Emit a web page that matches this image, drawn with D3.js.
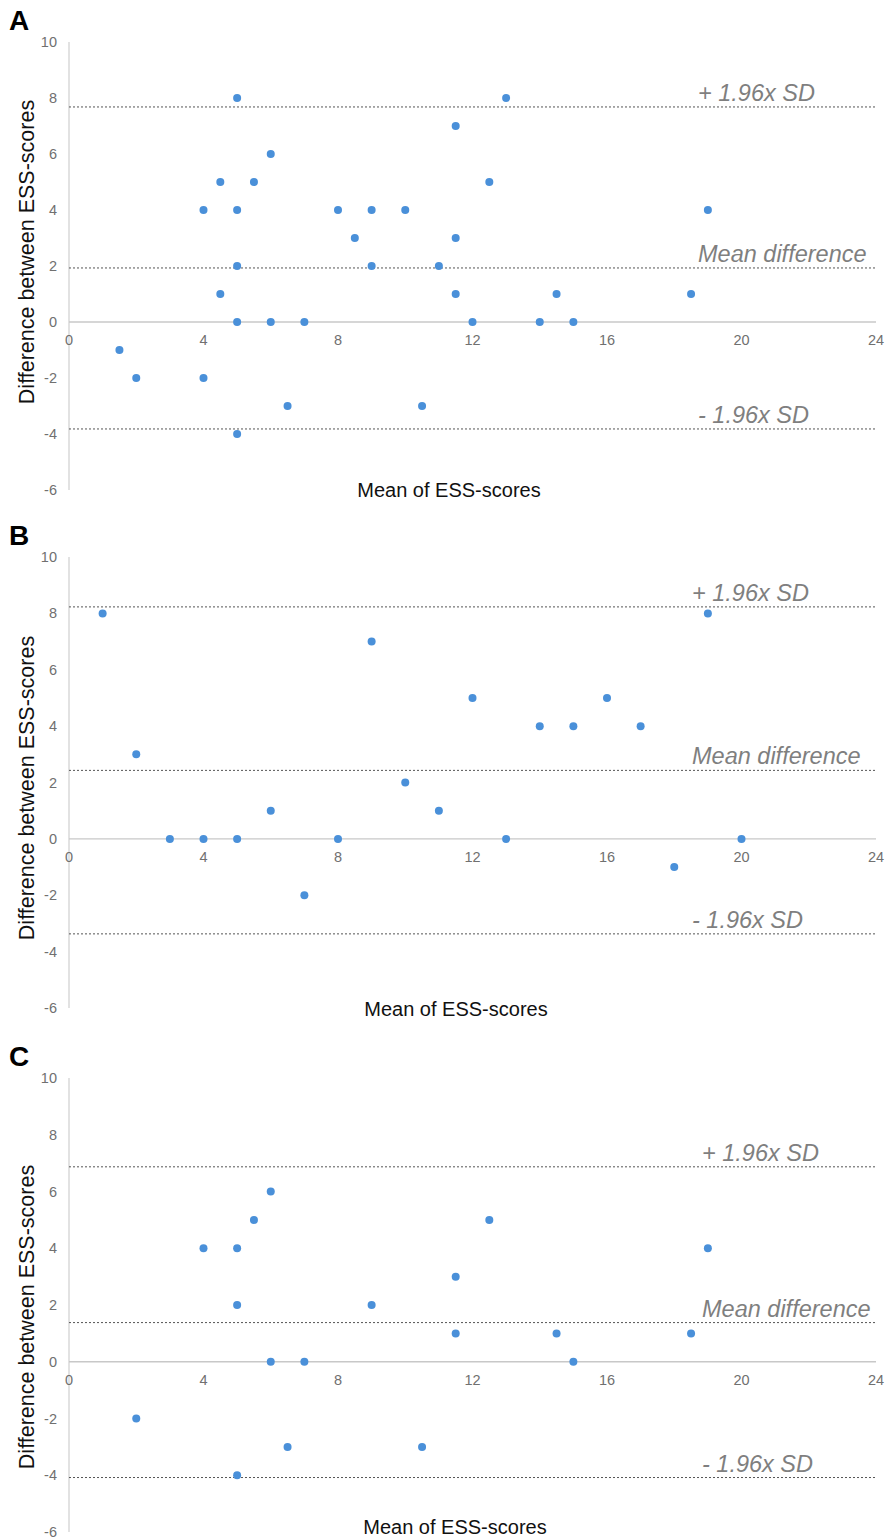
<!DOCTYPE html>
<html><head><meta charset="utf-8">
<script src="https://cdn.jsdelivr.net/npm/d3@7"></script>
<style>body{margin:0;background:#fff}svg{display:block;font-family:"Liberation Sans",Arial,sans-serif}</style>
</head><body>
<svg id="c" width="887" height="1540"></svg>
<script>
// ---- data ----
const panelLetters = ["A", "B", "C"];
const xTicks = [0, 4, 8, 12, 16, 20, 24];
const yTicks = [-6, -4, -2, 0, 2, 4, 6, 8, 10];
const xTitle = "Mean of ESS-scores";
const yTitle = "Difference between ESS-scores";
const lineLabels = ["+ 1.96x SD", "Mean difference", "- 1.96x SD"];

// points: [mean, difference]
const pointsA = [[5,8],[13,8],[11.5,7],[6,6],[4.5,5],[5.5,5],[12.5,5],[4,4],[5,4],[8,4],[9,4],[10,4],[19,4],
  [8.5,3],[11.5,3],[5,2],[9,2],[11,2],[4.5,1],[11.5,1],[14.5,1],[18.5,1],[5,0],[6,0],[7,0],[12,0],[14,0],[15,0],
  [1.5,-1],[2,-2],[4,-2],[6.5,-3],[10.5,-3],[5,-4]];
const pointsB = [[1,8],[19,8],[9,7],[12,5],[16,5],[14,4],[15,4],[17,4],[2,3],[10,2],[6,1],[11,1],
  [3,0],[4,0],[5,0],[8,0],[13,0],[20,0],[18,-1],[7,-2]];
const pointsC = [[6,6],[5.5,5],[12.5,5],[4,4],[5,4],[19,4],[11.5,3],[5,2],[9,2],[11.5,1],[14.5,1],[18.5,1],
  [6,0],[7,0],[15,0],[2,-2],[6.5,-3],[10.5,-3],[5,-4]];
// limits: [upper, mean, lower]
const limitsA = [7.68, 1.93, -3.82];
const limitsB = [8.23, 2.43, -3.37];
const limitsC = [6.87, 1.38, -4.08];

// ---- layout ----
const panels = [
  {points: pointsA, limits: limitsA, top: 42, bottom: 490, labelX: 698, xTitleX: 449, xTitleY: 490, yTitleY: 252},
  {points: pointsB, limits: limitsB, top: 557, bottom: 1008, labelX: 692, xTitleX: 456, xTitleY: 1009, yTitleY: 788},
  {points: pointsC, limits: limitsC, top: 1078, bottom: 1532, labelX: 702, xTitleX: 455, xTitleY: 1527, yTitleY: 1317}
];
const left = 69, right = 876;
const svg = d3.select("#c");

panels.forEach((p, i) => {
  const g = svg.append("g");
  const x = d3.scaleLinear().domain([0, 24]).range([left, right]);
  const y = d3.scaleLinear().domain([-6, 10]).range([p.bottom, p.top]);

  // panel letter
  g.append("text").attr("x", 9).attr("y", p.top - 12)
    .attr("font-size", 28).attr("font-weight", "bold").attr("fill", "#000")
    .text(panelLetters[i]);

  // y axis line
  g.append("line").attr("x1", left).attr("x2", left).attr("y1", y(10)).attr("y2", y(-6))
    .attr("stroke", "#d9d9d9").attr("stroke-width", 1.5);
  // zero line
  g.append("line").attr("x1", left).attr("x2", right).attr("y1", y(0)).attr("y2", y(0))
    .attr("stroke", "#c8c8c8").attr("stroke-width", 1.3);

  // y tick labels
  g.selectAll(".yt").data(yTicks).enter().append("text")
    .attr("x", 57).attr("y", d => y(d)).attr("dy", "0.35em")
    .attr("text-anchor", "end").attr("font-size", 14.5).attr("fill", "#707070")
    .text(d => d);
  // x tick labels
  g.selectAll(".xt").data(xTicks).enter().append("text")
    .attr("x", d => x(d)).attr("y", y(0) + 18).attr("dy", "0.35em")
    .attr("text-anchor", "middle").attr("font-size", 14.5).attr("fill", "#707070")
    .text(d => d);

  // limit lines
  g.selectAll(".lim").data(p.limits).enter().append("line")
    .attr("x1", left).attr("x2", right).attr("y1", d => y(d)).attr("y2", d => y(d))
    .attr("stroke", "#555").attr("stroke-width", 1).attr("stroke-dasharray", "2,2");
  g.selectAll(".liml").data(p.limits).enter().append("text")
    .attr("x", p.labelX).attr("y", d => y(d) - 6)
    .attr("font-size", 23.5).attr("font-style", "italic").attr("fill", "#7f7f7f")
    .text((d, k) => lineLabels[k]);

  // points
  g.selectAll("circle").data(p.points).enter().append("circle")
    .attr("cx", d => x(d[0])).attr("cy", d => y(d[1])).attr("r", 4)
    .attr("fill", "#4a90d9");

  // titles
  g.append("text").attr("x", p.xTitleX).attr("y", p.xTitleY).attr("dy", "0.35em")
    .attr("text-anchor", "middle").attr("font-size", 20).attr("fill", "#111")
    .text(xTitle);
  g.append("text").attr("transform", `translate(26,${p.yTitleY}) rotate(-90)`)
    .attr("dy", "0.35em").attr("text-anchor", "middle").attr("font-size", 21.5).attr("fill", "#111")
    .text(yTitle);
});
</script>
</body></html>
